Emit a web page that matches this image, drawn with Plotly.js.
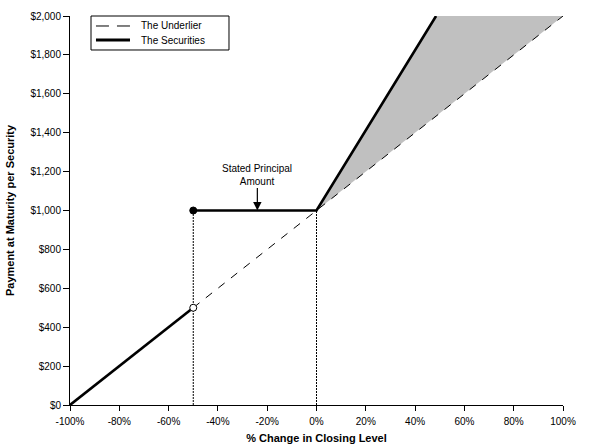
<!DOCTYPE html>
<html>
<head>
<meta charset="utf-8">
<script src="https://cdn.plot.ly/plotly-3.0.1.min.js"></script>
<style>html,body{margin:0;padding:0;background:#fff;}#chart{width:598px;height:447px;}</style>
</head>
<body>
<div id="chart"></div>
<script>
// Data
const xTickVals = [-100, -80, -60, -40, -20, 0, 20, 40, 60, 80, 100];
const xTickText = ['-100%', '-80%', '-60%', '-40%', '-20%', '0%', '20%', '40%', '60%', '80%', '100%'];
const yTickVals = [0, 200, 400, 600, 800, 1000, 1200, 1400, 1600, 1800, 2000];
const yTickText = ['$0', '$200', '$400', '$600', '$800', '$1,000', '$1,200', '$1,400', '$1,600', '$1,800', '$2,000'];

const underlierX = [-50, 100];
const underlierY = [500, 2000];

const securitiesLowX = [-100, -50];
const securitiesLowY = [0, 500];

const securitiesHighX = [-50, 0, 48.5];
const securitiesHighY = [1000, 1000, 2000];

const shadeX = [0, 48.5, 100, 0];
const shadeY = [1000, 2000, 2000, 1000];

const barrierX = [-50, -50];
const barrierY = [0, 1000];
const initialX = [0, 0];
const initialY = [0, 1000];

const openPointX = [-50];
const openPointY = [500];
const closedPointX = [-50];
const closedPointY = [1000];

const annoX = -24;
const annoY = 1000;

const legendLabels = ['The Underlier', 'The Securities'];

const FONT = 'Liberation Sans, Arial, sans-serif';

const traces = [
  {x: shadeX, y: shadeY, mode: 'lines', fill: 'toself', fillcolor: '#c0c0c0',
   line: {width: 0, color: 'rgba(0,0,0,0)'}, hoverinfo: 'skip'},
  {x: barrierX, y: barrierY, mode: 'lines', line: {color: '#000', width: 1, dash: '2px,1px'}, hoverinfo: 'skip'},
  {x: initialX, y: initialY, mode: 'lines', line: {color: '#000', width: 1, dash: '2px,1px'}, hoverinfo: 'skip'},
  {x: underlierX, y: underlierY, mode: 'lines', name: legendLabels[0],
   line: {color: '#000', width: 1, dash: '8px,8px'}},
  {x: securitiesHighX, y: securitiesHighY, mode: 'lines', name: legendLabels[1],
   line: {color: '#000', width: 2.6}},
  {x: securitiesLowX, y: securitiesLowY, mode: 'lines', name: legendLabels[1],
   line: {color: '#000', width: 2.6}},
  {x: closedPointX, y: closedPointY, mode: 'markers', cliponaxis: false,
   marker: {color: '#000', size: 7, line: {color: '#000', width: 1}}},
  {x: openPointX, y: openPointY, mode: 'markers', cliponaxis: false,
   marker: {color: '#fff', size: 7, line: {color: '#000', width: 1}}}
];

// Custom legend box (paper coordinates)
const legX0 = 0.0426, legX1 = 0.3225, legY0 = 0.9126, legY1 = 1.0;
const sampX0 = 0.0527, sampX1 = 0.1217, row1 = 0.9743, row2 = 0.9383, textX = 0.139;

const layout = {
  width: 598, height: 447,
  margin: {l: 70, r: 35, t: 16, b: 42},
  paper_bgcolor: '#fff', plot_bgcolor: '#fff',
  font: {family: FONT, size: 10, color: '#000'},
  showlegend: false,
  xaxis: {
    range: [-100, 100], tickmode: 'array', tickvals: xTickVals, ticktext: xTickText,
    showgrid: false, zeroline: false, showline: true, linecolor: '#000', linewidth: 1,
    ticks: 'outside', ticklen: 5, tickcolor: '#000', ticklabelstandoff: 2,
    tickfont: {family: FONT, size: 10},
    title: {text: '<b>% Change in Closing Level</b>', font: {family: FONT, size: 11}, standoff: 8}
  },
  yaxis: {
    range: [0, 2000], tickmode: 'array', tickvals: yTickVals, ticktext: yTickText,
    showgrid: false, zeroline: false, showline: true, linecolor: '#000', linewidth: 1,
    ticks: 'outside', ticklen: 6, tickcolor: '#000',
    tickfont: {family: FONT, size: 10},
    title: {text: '<b>Payment at Maturity per Security</b>', font: {family: FONT, size: 11}, standoff: 13}
  },
  shapes: [
    {type: 'rect', xref: 'paper', yref: 'paper', x0: legX0, x1: legX1, y0: legY0, y1: legY1,
     line: {color: '#000', width: 1}, fillcolor: '#fff'},
    {type: 'line', xref: 'paper', yref: 'paper', x0: sampX0, x1: sampX1, y0: row1, y1: row1,
     line: {color: '#000', width: 1, dash: '13px,8px'}},
    {type: 'line', xref: 'paper', yref: 'paper', x0: sampX0, x1: sampX1, y0: row2, y1: row2,
     line: {color: '#000', width: 3}}
  ],
  annotations: [
    {x: annoX, y: annoY, xref: 'x', yref: 'y',
     text: 'Stated Principal<br>Amount', showarrow: true,
     ax: 0, ay: -36, arrowhead: 2, arrowsize: 1.4, arrowwidth: 1.2, arrowcolor: '#000',
     font: {family: FONT, size: 10, color: '#000'}},
    {x: textX, y: row1, xref: 'paper', yref: 'paper', xanchor: 'left', yanchor: 'middle',
     text: legendLabels[0], showarrow: false, font: {family: FONT, size: 10, color: '#000'}},
    {x: textX, y: row2, xref: 'paper', yref: 'paper', xanchor: 'left', yanchor: 'middle',
     text: legendLabels[1], showarrow: false, font: {family: FONT, size: 10, color: '#000'}}
  ]
};

Plotly.newPlot('chart', traces, layout, {displayModeBar: false, staticPlot: true});
</script>
</body>
</html>
